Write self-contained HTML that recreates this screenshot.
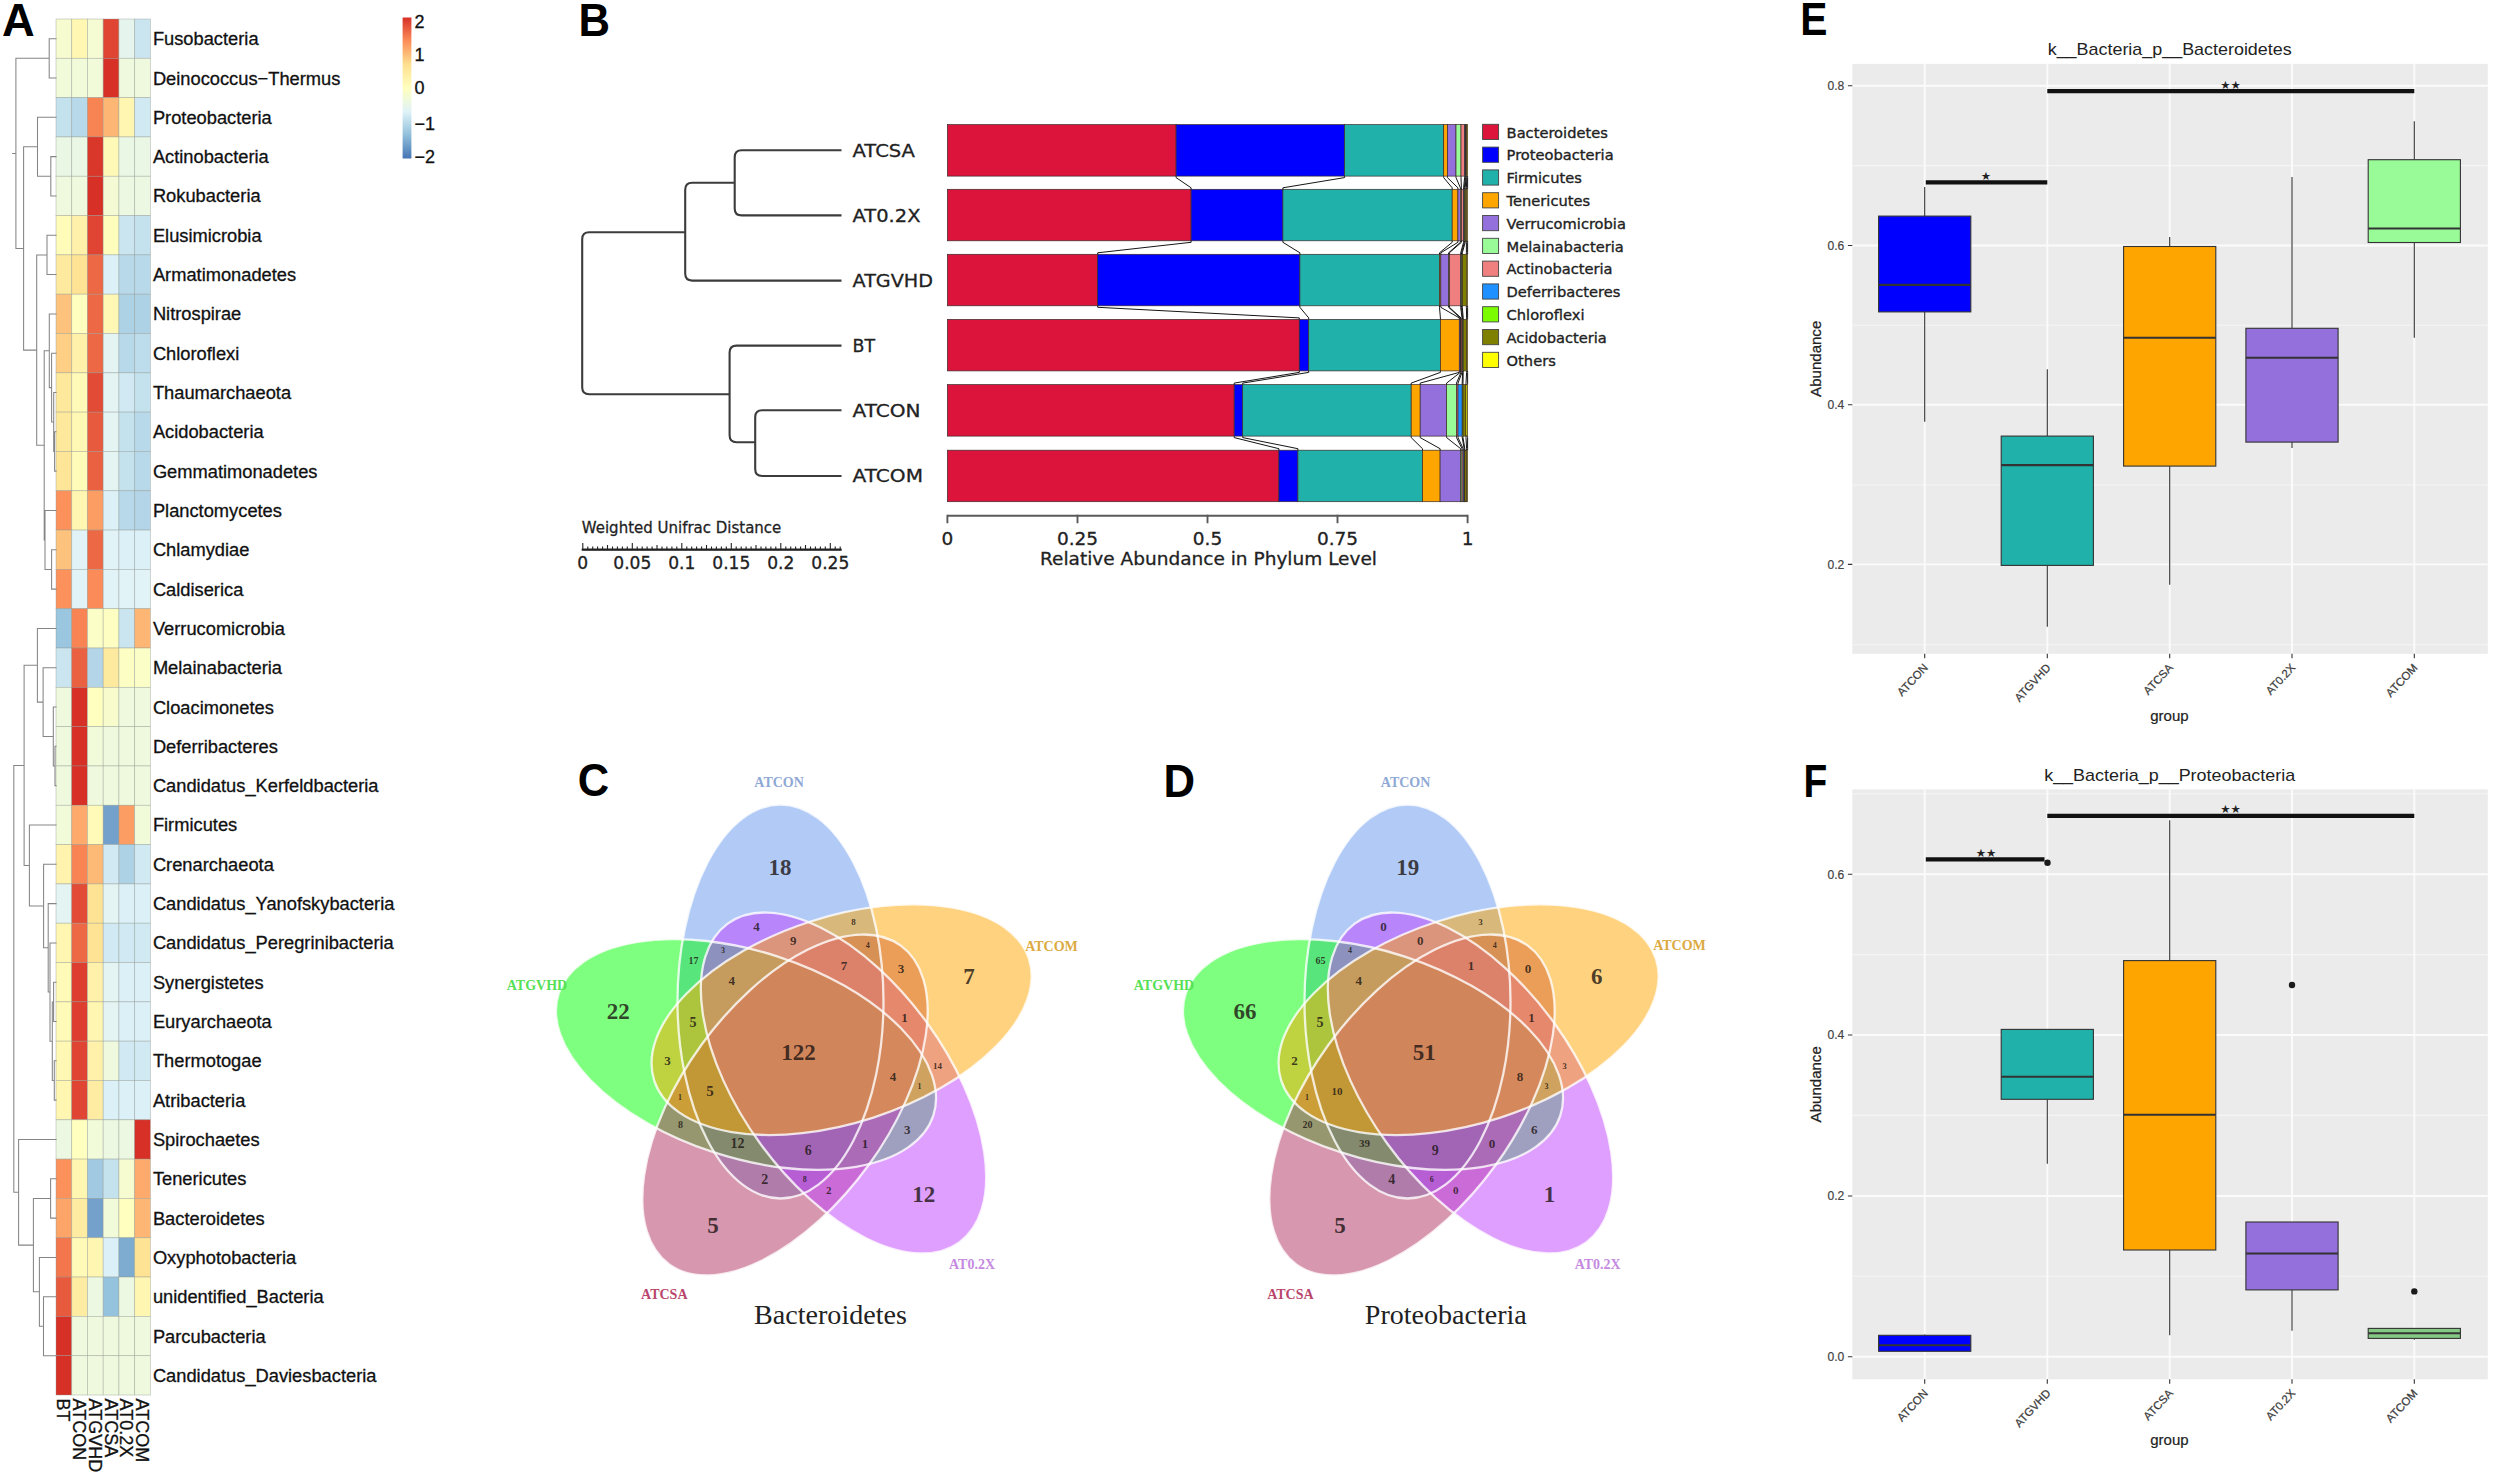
<!DOCTYPE html>
<html lang="en">
<head>
<meta charset="utf-8">
<title>Figure</title>
<style>
html,body{margin:0;padding:0;background:#fff;}
body{width:2500px;height:1483px;overflow:hidden;}
svg{display:block;}
.fs{font-family:"Liberation Sans", Arial, Helvetica, sans-serif;}
.fr{font-family:"Liberation Serif", "Times New Roman", serif;}
.fd{font-family:"DejaVu Sans", "Liberation Sans", sans-serif;}
</style>
</head>
<body>
<svg width="2500" height="1483" viewBox="0 0 2500 1483">
<rect x="0" y="0" width="2500" height="1483" fill="#ffffff"/>
<g id="panelA">
<text class="fs" font-size="46" font-weight="bold" fill="#000" transform="translate(1.91 35.60) scale(0.985 1)">A</text>
<g stroke="#8f988f" stroke-width="0.7" stroke-opacity="0.55">
<rect x="56.00" y="19.00" width="15.73" height="39.31" fill="#F6FBD0"/>
<rect x="71.73" y="19.00" width="15.73" height="39.31" fill="#FFF7B2"/>
<rect x="87.47" y="19.00" width="15.73" height="39.31" fill="#F5FBD2"/>
<rect x="103.20" y="19.00" width="15.73" height="39.31" fill="#DF4532"/>
<rect x="118.93" y="19.00" width="15.73" height="39.31" fill="#E5F5EE"/>
<rect x="134.67" y="19.00" width="15.73" height="39.31" fill="#CAE5F0"/>
<rect x="56.00" y="58.31" width="15.73" height="39.31" fill="#F1FAD9"/>
<rect x="71.73" y="58.31" width="15.73" height="39.31" fill="#F1FAD9"/>
<rect x="87.47" y="58.31" width="15.73" height="39.31" fill="#F1FAD9"/>
<rect x="103.20" y="58.31" width="15.73" height="39.31" fill="#D73027"/>
<rect x="118.93" y="58.31" width="15.73" height="39.31" fill="#EFF9DD"/>
<rect x="134.67" y="58.31" width="15.73" height="39.31" fill="#EFF9DD"/>
<rect x="56.00" y="97.63" width="15.73" height="39.31" fill="#C4E1EE"/>
<rect x="71.73" y="97.63" width="15.73" height="39.31" fill="#B8D9EA"/>
<rect x="87.47" y="97.63" width="15.73" height="39.31" fill="#F88454"/>
<rect x="103.20" y="97.63" width="15.73" height="39.31" fill="#FDB674"/>
<rect x="118.93" y="97.63" width="15.73" height="39.31" fill="#FFF6B1"/>
<rect x="134.67" y="97.63" width="15.73" height="39.31" fill="#D0E9F2"/>
<rect x="56.00" y="136.94" width="15.73" height="39.31" fill="#EAF7E5"/>
<rect x="71.73" y="136.94" width="15.73" height="39.31" fill="#EAF7E5"/>
<rect x="87.47" y="136.94" width="15.73" height="39.31" fill="#DA372B"/>
<rect x="103.20" y="136.94" width="15.73" height="39.31" fill="#FFF9B7"/>
<rect x="118.93" y="136.94" width="15.73" height="39.31" fill="#EAF7E5"/>
<rect x="134.67" y="136.94" width="15.73" height="39.31" fill="#EAF7E5"/>
<rect x="56.00" y="176.26" width="15.73" height="39.31" fill="#EFF9DD"/>
<rect x="71.73" y="176.26" width="15.73" height="39.31" fill="#EFF9DD"/>
<rect x="87.47" y="176.26" width="15.73" height="39.31" fill="#D73027"/>
<rect x="103.20" y="176.26" width="15.73" height="39.31" fill="#F3FAD4"/>
<rect x="118.93" y="176.26" width="15.73" height="39.31" fill="#ECF8E1"/>
<rect x="134.67" y="176.26" width="15.73" height="39.31" fill="#ECF8E1"/>
<rect x="56.00" y="215.57" width="15.73" height="39.31" fill="#FFFBB9"/>
<rect x="71.73" y="215.57" width="15.73" height="39.31" fill="#FFF1AA"/>
<rect x="87.47" y="215.57" width="15.73" height="39.31" fill="#DF4532"/>
<rect x="103.20" y="215.57" width="15.73" height="39.31" fill="#FFFDBB"/>
<rect x="118.93" y="215.57" width="15.73" height="39.31" fill="#CAE5F0"/>
<rect x="134.67" y="215.57" width="15.73" height="39.31" fill="#C4E1EE"/>
<rect x="56.00" y="254.89" width="15.73" height="39.31" fill="#FEEA9F"/>
<rect x="71.73" y="254.89" width="15.73" height="39.31" fill="#FEE395"/>
<rect x="87.47" y="254.89" width="15.73" height="39.31" fill="#ED6845"/>
<rect x="103.20" y="254.89" width="15.73" height="39.31" fill="#DCF0F7"/>
<rect x="118.93" y="254.89" width="15.73" height="39.31" fill="#B8D9EA"/>
<rect x="134.67" y="254.89" width="15.73" height="39.31" fill="#B8D9EA"/>
<rect x="56.00" y="294.20" width="15.73" height="39.31" fill="#FDC37D"/>
<rect x="71.73" y="294.20" width="15.73" height="39.31" fill="#FFFFBF"/>
<rect x="87.47" y="294.20" width="15.73" height="39.31" fill="#ED6845"/>
<rect x="103.20" y="294.20" width="15.73" height="39.31" fill="#FFF8B4"/>
<rect x="118.93" y="294.20" width="15.73" height="39.31" fill="#ADD1E5"/>
<rect x="134.67" y="294.20" width="15.73" height="39.31" fill="#ADD1E5"/>
<rect x="56.00" y="333.51" width="15.73" height="39.31" fill="#FECF85"/>
<rect x="71.73" y="333.51" width="15.73" height="39.31" fill="#FFF1AA"/>
<rect x="87.47" y="333.51" width="15.73" height="39.31" fill="#ED6845"/>
<rect x="103.20" y="333.51" width="15.73" height="39.31" fill="#E3F4F2"/>
<rect x="118.93" y="333.51" width="15.73" height="39.31" fill="#B8D9EA"/>
<rect x="134.67" y="333.51" width="15.73" height="39.31" fill="#BEDDEC"/>
<rect x="56.00" y="372.83" width="15.73" height="39.31" fill="#FEE89C"/>
<rect x="71.73" y="372.83" width="15.73" height="39.31" fill="#FFFAB8"/>
<rect x="87.47" y="372.83" width="15.73" height="39.31" fill="#E24C36"/>
<rect x="103.20" y="372.83" width="15.73" height="39.31" fill="#E3F4F2"/>
<rect x="118.93" y="372.83" width="15.73" height="39.31" fill="#D0E9F2"/>
<rect x="134.67" y="372.83" width="15.73" height="39.31" fill="#C4E1EE"/>
<rect x="56.00" y="412.14" width="15.73" height="39.31" fill="#FEE89C"/>
<rect x="71.73" y="412.14" width="15.73" height="39.31" fill="#FFF8B4"/>
<rect x="87.47" y="412.14" width="15.73" height="39.31" fill="#E85A3D"/>
<rect x="103.20" y="412.14" width="15.73" height="39.31" fill="#E3F4F2"/>
<rect x="118.93" y="412.14" width="15.73" height="39.31" fill="#C4E1EE"/>
<rect x="134.67" y="412.14" width="15.73" height="39.31" fill="#B8D9EA"/>
<rect x="56.00" y="451.46" width="15.73" height="39.31" fill="#FEE598"/>
<rect x="71.73" y="451.46" width="15.73" height="39.31" fill="#FFFBB9"/>
<rect x="87.47" y="451.46" width="15.73" height="39.31" fill="#EA6141"/>
<rect x="103.20" y="451.46" width="15.73" height="39.31" fill="#E3F4F2"/>
<rect x="118.93" y="451.46" width="15.73" height="39.31" fill="#C4E1EE"/>
<rect x="134.67" y="451.46" width="15.73" height="39.31" fill="#B8D9EA"/>
<rect x="56.00" y="490.77" width="15.73" height="39.31" fill="#FC915C"/>
<rect x="71.73" y="490.77" width="15.73" height="39.31" fill="#FFF6B1"/>
<rect x="87.47" y="490.77" width="15.73" height="39.31" fill="#FC9E64"/>
<rect x="103.20" y="490.77" width="15.73" height="39.31" fill="#DCF0F7"/>
<rect x="118.93" y="490.77" width="15.73" height="39.31" fill="#B8D9EA"/>
<rect x="134.67" y="490.77" width="15.73" height="39.31" fill="#B3D5E7"/>
<rect x="56.00" y="530.09" width="15.73" height="39.31" fill="#FDC37D"/>
<rect x="71.73" y="530.09" width="15.73" height="39.31" fill="#E1F3F7"/>
<rect x="87.47" y="530.09" width="15.73" height="39.31" fill="#ED6845"/>
<rect x="103.20" y="530.09" width="15.73" height="39.31" fill="#E1F3F7"/>
<rect x="118.93" y="530.09" width="15.73" height="39.31" fill="#DCF0F7"/>
<rect x="134.67" y="530.09" width="15.73" height="39.31" fill="#DCF0F7"/>
<rect x="56.00" y="569.40" width="15.73" height="39.31" fill="#FC915C"/>
<rect x="71.73" y="569.40" width="15.73" height="39.31" fill="#E1F3F7"/>
<rect x="87.47" y="569.40" width="15.73" height="39.31" fill="#FB8B58"/>
<rect x="103.20" y="569.40" width="15.73" height="39.31" fill="#E1F3F7"/>
<rect x="118.93" y="569.40" width="15.73" height="39.31" fill="#E1F3F7"/>
<rect x="134.67" y="569.40" width="15.73" height="39.31" fill="#E1F3F7"/>
<rect x="56.00" y="608.71" width="15.73" height="39.31" fill="#9BC6DF"/>
<rect x="71.73" y="608.71" width="15.73" height="39.31" fill="#F88454"/>
<rect x="87.47" y="608.71" width="15.73" height="39.31" fill="#FBFEC6"/>
<rect x="103.20" y="608.71" width="15.73" height="39.31" fill="#FEFEC2"/>
<rect x="118.93" y="608.71" width="15.73" height="39.31" fill="#CAE5F0"/>
<rect x="134.67" y="608.71" width="15.73" height="39.31" fill="#FDB674"/>
<rect x="56.00" y="648.03" width="15.73" height="39.31" fill="#CAE5F0"/>
<rect x="71.73" y="648.03" width="15.73" height="39.31" fill="#EA6141"/>
<rect x="87.47" y="648.03" width="15.73" height="39.31" fill="#B3D5E7"/>
<rect x="103.20" y="648.03" width="15.73" height="39.31" fill="#FEEA9F"/>
<rect x="118.93" y="648.03" width="15.73" height="39.31" fill="#FDFEC3"/>
<rect x="134.67" y="648.03" width="15.73" height="39.31" fill="#FBFEC6"/>
<rect x="56.00" y="687.34" width="15.73" height="39.31" fill="#EFF9DD"/>
<rect x="71.73" y="687.34" width="15.73" height="39.31" fill="#D73027"/>
<rect x="87.47" y="687.34" width="15.73" height="39.31" fill="#FFFFBF"/>
<rect x="103.20" y="687.34" width="15.73" height="39.31" fill="#F8FCCC"/>
<rect x="118.93" y="687.34" width="15.73" height="39.31" fill="#EFF9DD"/>
<rect x="134.67" y="687.34" width="15.73" height="39.31" fill="#EFF9DD"/>
<rect x="56.00" y="726.66" width="15.73" height="39.31" fill="#EFF9DD"/>
<rect x="71.73" y="726.66" width="15.73" height="39.31" fill="#D73027"/>
<rect x="87.47" y="726.66" width="15.73" height="39.31" fill="#F1FAD9"/>
<rect x="103.20" y="726.66" width="15.73" height="39.31" fill="#EFF9DD"/>
<rect x="118.93" y="726.66" width="15.73" height="39.31" fill="#EFF9DD"/>
<rect x="134.67" y="726.66" width="15.73" height="39.31" fill="#EFF9DD"/>
<rect x="56.00" y="765.97" width="15.73" height="39.31" fill="#EFF9DD"/>
<rect x="71.73" y="765.97" width="15.73" height="39.31" fill="#D73027"/>
<rect x="87.47" y="765.97" width="15.73" height="39.31" fill="#EFF9DD"/>
<rect x="103.20" y="765.97" width="15.73" height="39.31" fill="#EFF9DD"/>
<rect x="118.93" y="765.97" width="15.73" height="39.31" fill="#EFF9DD"/>
<rect x="134.67" y="765.97" width="15.73" height="39.31" fill="#EFF9DD"/>
<rect x="56.00" y="805.29" width="15.73" height="39.31" fill="#F1FAD9"/>
<rect x="71.73" y="805.29" width="15.73" height="39.31" fill="#FDAA6C"/>
<rect x="87.47" y="805.29" width="15.73" height="39.31" fill="#FFFAB8"/>
<rect x="103.20" y="805.29" width="15.73" height="39.31" fill="#73A1CB"/>
<rect x="118.93" y="805.29" width="15.73" height="39.31" fill="#FC9E64"/>
<rect x="134.67" y="805.29" width="15.73" height="39.31" fill="#F1FAD9"/>
<rect x="56.00" y="844.60" width="15.73" height="39.31" fill="#FFF3AD"/>
<rect x="71.73" y="844.60" width="15.73" height="39.31" fill="#F88454"/>
<rect x="87.47" y="844.60" width="15.73" height="39.31" fill="#FDB976"/>
<rect x="103.20" y="844.60" width="15.73" height="39.31" fill="#D0E9F2"/>
<rect x="118.93" y="844.60" width="15.73" height="39.31" fill="#ADD1E5"/>
<rect x="134.67" y="844.60" width="15.73" height="39.31" fill="#D0E9F2"/>
<rect x="56.00" y="883.91" width="15.73" height="39.31" fill="#E3F4F2"/>
<rect x="71.73" y="883.91" width="15.73" height="39.31" fill="#E24C36"/>
<rect x="87.47" y="883.91" width="15.73" height="39.31" fill="#FEE395"/>
<rect x="103.20" y="883.91" width="15.73" height="39.31" fill="#E3F4F2"/>
<rect x="118.93" y="883.91" width="15.73" height="39.31" fill="#DCF0F7"/>
<rect x="134.67" y="883.91" width="15.73" height="39.31" fill="#DCF0F7"/>
<rect x="56.00" y="923.23" width="15.73" height="39.31" fill="#FFF6B1"/>
<rect x="71.73" y="923.23" width="15.73" height="39.31" fill="#ED6845"/>
<rect x="87.47" y="923.23" width="15.73" height="39.31" fill="#FEE395"/>
<rect x="103.20" y="923.23" width="15.73" height="39.31" fill="#D0E9F2"/>
<rect x="118.93" y="923.23" width="15.73" height="39.31" fill="#D0E9F2"/>
<rect x="134.67" y="923.23" width="15.73" height="39.31" fill="#D0E9F2"/>
<rect x="56.00" y="962.54" width="15.73" height="39.31" fill="#FFFAB8"/>
<rect x="71.73" y="962.54" width="15.73" height="39.31" fill="#DD3E2F"/>
<rect x="87.47" y="962.54" width="15.73" height="39.31" fill="#FFF1AA"/>
<rect x="103.20" y="962.54" width="15.73" height="39.31" fill="#E3F4F2"/>
<rect x="118.93" y="962.54" width="15.73" height="39.31" fill="#DCF0F7"/>
<rect x="134.67" y="962.54" width="15.73" height="39.31" fill="#DCF0F7"/>
<rect x="56.00" y="1001.86" width="15.73" height="39.31" fill="#FFFAB8"/>
<rect x="71.73" y="1001.86" width="15.73" height="39.31" fill="#DD3E2F"/>
<rect x="87.47" y="1001.86" width="15.73" height="39.31" fill="#FFF6B1"/>
<rect x="103.20" y="1001.86" width="15.73" height="39.31" fill="#E3F4F2"/>
<rect x="118.93" y="1001.86" width="15.73" height="39.31" fill="#DCF0F7"/>
<rect x="134.67" y="1001.86" width="15.73" height="39.31" fill="#DCF0F7"/>
<rect x="56.00" y="1041.17" width="15.73" height="39.31" fill="#FFF8B4"/>
<rect x="71.73" y="1041.17" width="15.73" height="39.31" fill="#DF4532"/>
<rect x="87.47" y="1041.17" width="15.73" height="39.31" fill="#FFF1AA"/>
<rect x="103.20" y="1041.17" width="15.73" height="39.31" fill="#EFF9DD"/>
<rect x="118.93" y="1041.17" width="15.73" height="39.31" fill="#D0E9F2"/>
<rect x="134.67" y="1041.17" width="15.73" height="39.31" fill="#D0E9F2"/>
<rect x="56.00" y="1080.49" width="15.73" height="39.31" fill="#FFF6B1"/>
<rect x="71.73" y="1080.49" width="15.73" height="39.31" fill="#DF4532"/>
<rect x="87.47" y="1080.49" width="15.73" height="39.31" fill="#FEECA3"/>
<rect x="103.20" y="1080.49" width="15.73" height="39.31" fill="#DCF0F7"/>
<rect x="118.93" y="1080.49" width="15.73" height="39.31" fill="#DCF0F7"/>
<rect x="134.67" y="1080.49" width="15.73" height="39.31" fill="#DCF0F7"/>
<rect x="56.00" y="1119.80" width="15.73" height="39.31" fill="#ECF8E1"/>
<rect x="71.73" y="1119.80" width="15.73" height="39.31" fill="#FFFFBF"/>
<rect x="87.47" y="1119.80" width="15.73" height="39.31" fill="#F1FAD9"/>
<rect x="103.20" y="1119.80" width="15.73" height="39.31" fill="#ECF8E1"/>
<rect x="118.93" y="1119.80" width="15.73" height="39.31" fill="#ECF8E1"/>
<rect x="134.67" y="1119.80" width="15.73" height="39.31" fill="#D73027"/>
<rect x="56.00" y="1159.11" width="15.73" height="39.31" fill="#FC915C"/>
<rect x="71.73" y="1159.11" width="15.73" height="39.31" fill="#FFF6B1"/>
<rect x="87.47" y="1159.11" width="15.73" height="39.31" fill="#A1C9E1"/>
<rect x="103.20" y="1159.11" width="15.73" height="39.31" fill="#C4E1EE"/>
<rect x="118.93" y="1159.11" width="15.73" height="39.31" fill="#F6FBD0"/>
<rect x="134.67" y="1159.11" width="15.73" height="39.31" fill="#FDAA6C"/>
<rect x="56.00" y="1198.43" width="15.73" height="39.31" fill="#FDA468"/>
<rect x="71.73" y="1198.43" width="15.73" height="39.31" fill="#FEECA3"/>
<rect x="87.47" y="1198.43" width="15.73" height="39.31" fill="#73A1CB"/>
<rect x="103.20" y="1198.43" width="15.73" height="39.31" fill="#F1FAD9"/>
<rect x="118.93" y="1198.43" width="15.73" height="39.31" fill="#FFFFBF"/>
<rect x="134.67" y="1198.43" width="15.73" height="39.31" fill="#FDB674"/>
<rect x="56.00" y="1237.74" width="15.73" height="39.31" fill="#F3764C"/>
<rect x="71.73" y="1237.74" width="15.73" height="39.31" fill="#FFFAB8"/>
<rect x="87.47" y="1237.74" width="15.73" height="39.31" fill="#FFF6B1"/>
<rect x="103.20" y="1237.74" width="15.73" height="39.31" fill="#DCF0F7"/>
<rect x="118.93" y="1237.74" width="15.73" height="39.31" fill="#7EACD1"/>
<rect x="134.67" y="1237.74" width="15.73" height="39.31" fill="#FEE395"/>
<rect x="56.00" y="1277.06" width="15.73" height="39.31" fill="#E85A3D"/>
<rect x="71.73" y="1277.06" width="15.73" height="39.31" fill="#FEECA3"/>
<rect x="87.47" y="1277.06" width="15.73" height="39.31" fill="#ECF8E1"/>
<rect x="103.20" y="1277.06" width="15.73" height="39.31" fill="#95C2DC"/>
<rect x="118.93" y="1277.06" width="15.73" height="39.31" fill="#ECF8E1"/>
<rect x="134.67" y="1277.06" width="15.73" height="39.31" fill="#FFF6B1"/>
<rect x="56.00" y="1316.37" width="15.73" height="39.31" fill="#D73027"/>
<rect x="71.73" y="1316.37" width="15.73" height="39.31" fill="#EFF9DD"/>
<rect x="87.47" y="1316.37" width="15.73" height="39.31" fill="#EFF9DD"/>
<rect x="103.20" y="1316.37" width="15.73" height="39.31" fill="#EFF9DD"/>
<rect x="118.93" y="1316.37" width="15.73" height="39.31" fill="#EFF9DD"/>
<rect x="134.67" y="1316.37" width="15.73" height="39.31" fill="#EFF9DD"/>
<rect x="56.00" y="1355.69" width="15.73" height="39.31" fill="#D73027"/>
<rect x="71.73" y="1355.69" width="15.73" height="39.31" fill="#EFF9DD"/>
<rect x="87.47" y="1355.69" width="15.73" height="39.31" fill="#EFF9DD"/>
<rect x="103.20" y="1355.69" width="15.73" height="39.31" fill="#EFF9DD"/>
<rect x="118.93" y="1355.69" width="15.73" height="39.31" fill="#EFF9DD"/>
<rect x="134.67" y="1355.69" width="15.73" height="39.31" fill="#EFF9DD"/>
</g>
<text class="fs" x="152.9" y="45.2" font-size="18.3" fill="#111" stroke="#111" stroke-width="0.3">Fusobacteria</text>
<text class="fs" x="152.9" y="84.5" font-size="18.3" fill="#111" stroke="#111" stroke-width="0.3">Deinococcus−Thermus</text>
<text class="fs" x="152.9" y="123.8" font-size="18.3" fill="#111" stroke="#111" stroke-width="0.3">Proteobacteria</text>
<text class="fs" x="152.9" y="163.1" font-size="18.3" fill="#111" stroke="#111" stroke-width="0.3">Actinobacteria</text>
<text class="fs" x="152.9" y="202.4" font-size="18.3" fill="#111" stroke="#111" stroke-width="0.3">Rokubacteria</text>
<text class="fs" x="152.9" y="241.7" font-size="18.3" fill="#111" stroke="#111" stroke-width="0.3">Elusimicrobia</text>
<text class="fs" x="152.9" y="281.0" font-size="18.3" fill="#111" stroke="#111" stroke-width="0.3">Armatimonadetes</text>
<text class="fs" x="152.9" y="320.4" font-size="18.3" fill="#111" stroke="#111" stroke-width="0.3">Nitrospirae</text>
<text class="fs" x="152.9" y="359.7" font-size="18.3" fill="#111" stroke="#111" stroke-width="0.3">Chloroflexi</text>
<text class="fs" x="152.9" y="399.0" font-size="18.3" fill="#111" stroke="#111" stroke-width="0.3">Thaumarchaeota</text>
<text class="fs" x="152.9" y="438.3" font-size="18.3" fill="#111" stroke="#111" stroke-width="0.3">Acidobacteria</text>
<text class="fs" x="152.9" y="477.6" font-size="18.3" fill="#111" stroke="#111" stroke-width="0.3">Gemmatimonadetes</text>
<text class="fs" x="152.9" y="516.9" font-size="18.3" fill="#111" stroke="#111" stroke-width="0.3">Planctomycetes</text>
<text class="fs" x="152.9" y="556.2" font-size="18.3" fill="#111" stroke="#111" stroke-width="0.3">Chlamydiae</text>
<text class="fs" x="152.9" y="595.6" font-size="18.3" fill="#111" stroke="#111" stroke-width="0.3">Caldiserica</text>
<text class="fs" x="152.9" y="634.9" font-size="18.3" fill="#111" stroke="#111" stroke-width="0.3">Verrucomicrobia</text>
<text class="fs" x="152.9" y="674.2" font-size="18.3" fill="#111" stroke="#111" stroke-width="0.3">Melainabacteria</text>
<text class="fs" x="152.9" y="713.5" font-size="18.3" fill="#111" stroke="#111" stroke-width="0.3">Cloacimonetes</text>
<text class="fs" x="152.9" y="752.8" font-size="18.3" fill="#111" stroke="#111" stroke-width="0.3">Deferribacteres</text>
<text class="fs" x="152.9" y="792.1" font-size="18.3" fill="#111" stroke="#111" stroke-width="0.3">Candidatus_Kerfeldbacteria</text>
<text class="fs" x="152.9" y="831.4" font-size="18.3" fill="#111" stroke="#111" stroke-width="0.3">Firmicutes</text>
<text class="fs" x="152.9" y="870.8" font-size="18.3" fill="#111" stroke="#111" stroke-width="0.3">Crenarchaeota</text>
<text class="fs" x="152.9" y="910.1" font-size="18.3" fill="#111" stroke="#111" stroke-width="0.3">Candidatus_Yanofskybacteria</text>
<text class="fs" x="152.9" y="949.4" font-size="18.3" fill="#111" stroke="#111" stroke-width="0.3">Candidatus_Peregrinibacteria</text>
<text class="fs" x="152.9" y="988.7" font-size="18.3" fill="#111" stroke="#111" stroke-width="0.3">Synergistetes</text>
<text class="fs" x="152.9" y="1028.0" font-size="18.3" fill="#111" stroke="#111" stroke-width="0.3">Euryarchaeota</text>
<text class="fs" x="152.9" y="1067.3" font-size="18.3" fill="#111" stroke="#111" stroke-width="0.3">Thermotogae</text>
<text class="fs" x="152.9" y="1106.6" font-size="18.3" fill="#111" stroke="#111" stroke-width="0.3">Atribacteria</text>
<text class="fs" x="152.9" y="1146.0" font-size="18.3" fill="#111" stroke="#111" stroke-width="0.3">Spirochaetes</text>
<text class="fs" x="152.9" y="1185.3" font-size="18.3" fill="#111" stroke="#111" stroke-width="0.3">Tenericutes</text>
<text class="fs" x="152.9" y="1224.6" font-size="18.3" fill="#111" stroke="#111" stroke-width="0.3">Bacteroidetes</text>
<text class="fs" x="152.9" y="1263.9" font-size="18.3" fill="#111" stroke="#111" stroke-width="0.3">Oxyphotobacteria</text>
<text class="fs" x="152.9" y="1303.2" font-size="18.3" fill="#111" stroke="#111" stroke-width="0.3">unidentified_Bacteria</text>
<text class="fs" x="152.9" y="1342.5" font-size="18.3" fill="#111" stroke="#111" stroke-width="0.3">Parcubacteria</text>
<text class="fs" x="152.9" y="1381.8" font-size="18.3" fill="#111" stroke="#111" stroke-width="0.3">Candidatus_Daviesbacteria</text>
<text class="fs" x="57.3" y="1398.5" font-size="18" transform="rotate(90 57.3 1398.5)" fill="#111" stroke="#111" stroke-width="0.3">BT</text>
<text class="fs" x="73.0" y="1398.5" font-size="18" transform="rotate(90 73.0 1398.5)" fill="#111" stroke="#111" stroke-width="0.3">ATCON</text>
<text class="fs" x="88.7" y="1398.5" font-size="18" transform="rotate(90 88.7 1398.5)" fill="#111" stroke="#111" stroke-width="0.3">ATGVHD</text>
<text class="fs" x="104.5" y="1398.5" font-size="18" transform="rotate(90 104.5 1398.5)" fill="#111" stroke="#111" stroke-width="0.3">ATCSA</text>
<text class="fs" x="120.2" y="1398.5" font-size="18" transform="rotate(90 120.2 1398.5)" fill="#111" stroke="#111" stroke-width="0.3">AT0.2X</text>
<text class="fs" x="135.9" y="1398.5" font-size="18" transform="rotate(90 135.9 1398.5)" fill="#111" stroke="#111" stroke-width="0.3">ATCOM</text>
<defs><linearGradient id="hkey" x1="0" y1="0" x2="0" y2="1">
<stop offset="0.0000" stop-color="#D73027"/>
<stop offset="0.1667" stop-color="#FC8D59"/>
<stop offset="0.3333" stop-color="#FEE090"/>
<stop offset="0.5000" stop-color="#FFFFBF"/>
<stop offset="0.6667" stop-color="#E0F3F8"/>
<stop offset="0.8333" stop-color="#91BFDB"/>
<stop offset="1.0000" stop-color="#4575B4"/>
</linearGradient></defs>
<rect x="402.6" y="17.5" width="8.8" height="141" fill="url(#hkey)"/>
<text class="fs" x="414.5" y="28.0" font-size="18" fill="#111" stroke="#111" stroke-width="0.3">2</text>
<text class="fs" x="414.5" y="61.0" font-size="18" fill="#111" stroke="#111" stroke-width="0.3">1</text>
<text class="fs" x="414.5" y="94.1" font-size="18" fill="#111" stroke="#111" stroke-width="0.3">0</text>
<text class="fs" x="414.5" y="129.8" font-size="18" fill="#111" stroke="#111" stroke-width="0.3">−1</text>
<text class="fs" x="414.5" y="163.4" font-size="18" fill="#111" stroke="#111" stroke-width="0.3">−2</text>
<path d="M49.2 38.7L49.2 78.0 M49.2 38.7L56.0 38.7 M49.2 78.0L56.0 78.0 M50.8 156.6L50.8 195.9 M50.8 156.6L56.0 156.6 M50.8 195.9L56.0 195.9 M37.5 117.3L37.5 176.3 M37.5 117.3L56.0 117.3 M37.5 176.3L50.8 176.3 M47.0 235.2L47.0 274.5 M47.0 235.2L56.0 235.2 M47.0 274.5L56.0 274.5 M54.6 431.8L54.6 471.1 M54.6 431.8L56.0 431.8 M54.6 471.1L56.0 471.1 M53.7 392.5L53.7 451.5 M53.7 392.5L56.0 392.5 M53.7 451.5L54.6 451.5 M51.6 353.2L51.6 422.0 M51.6 353.2L56.0 353.2 M51.6 422.0L53.7 422.0 M49.3 313.9L49.3 387.6 M49.3 313.9L56.0 313.9 M49.3 387.6L51.6 387.6 M51.6 549.7L51.6 589.1 M51.6 549.7L56.0 549.7 M51.6 589.1L56.0 589.1 M45.0 510.4L45.0 569.4 M45.0 510.4L56.0 510.4 M45.0 569.4L51.6 569.4 M44.2 350.7L44.2 539.9 M44.2 350.7L49.3 350.7 M44.2 539.9L45.0 539.9 M36.7 254.9L36.7 445.3 M36.7 254.9L47.0 254.9 M36.7 445.3L44.2 445.3 M23.6 146.8L23.6 350.1 M23.6 146.8L37.5 146.8 M23.6 350.1L36.7 350.1 M15.9 58.3L15.9 248.4 M15.9 58.3L49.2 58.3 M15.9 248.4L23.6 248.4 M55.0 746.3L55.0 785.6 M55.0 746.3L56.0 746.3 M55.0 785.6L56.0 785.6 M53.3 707.0L53.3 766.0 M53.3 707.0L56.0 707.0 M53.3 766.0L55.0 766.0 M43.1 667.7L43.1 736.5 M43.1 667.7L56.0 667.7 M43.1 736.5L53.3 736.5 M37.4 628.4L37.4 702.1 M37.4 628.4L56.0 628.4 M37.4 702.1L43.1 702.1 M53.6 982.2L53.6 1021.5 M53.6 982.2L56.0 982.2 M53.6 1021.5L56.0 1021.5 M54.3 1060.8L54.3 1100.1 M54.3 1060.8L56.0 1060.8 M54.3 1100.1L56.0 1100.1 M52.3 1001.9L52.3 1080.5 M52.3 1001.9L53.6 1001.9 M52.3 1080.5L54.3 1080.5 M50.0 942.9L50.0 1041.2 M50.0 942.9L56.0 942.9 M50.0 1041.2L52.3 1041.2 M48.2 903.6L48.2 992.0 M48.2 903.6L56.0 903.6 M48.2 992.0L50.0 992.0 M43.6 864.3L43.6 947.8 M43.6 864.3L56.0 864.3 M43.6 947.8L48.2 947.8 M29.4 824.9L29.4 906.0 M29.4 824.9L56.0 824.9 M29.4 906.0L43.6 906.0 M24.1 665.2L24.1 865.5 M24.1 665.2L37.4 665.2 M24.1 865.5L29.4 865.5 M50.6 1178.8L50.6 1218.1 M50.6 1178.8L56.0 1178.8 M50.6 1218.1L56.0 1218.1 M43.5 1296.7L43.5 1355.7 M43.5 1296.7L56.0 1296.7 M43.5 1355.7L56.0 1355.7 M39.4 1257.4L39.4 1326.2 M39.4 1257.4L56.0 1257.4 M39.4 1326.2L43.5 1326.2 M33.4 1198.4L33.4 1291.8 M33.4 1198.4L50.6 1198.4 M33.4 1291.8L39.4 1291.8 M18.6 1139.5L18.6 1245.1 M18.6 1139.5L56.0 1139.5 M18.6 1245.1L33.4 1245.1 M13.8 765.4L13.8 1192.3 M13.8 765.4L24.1 765.4 M13.8 1192.3L18.6 1192.3 M15.9 153.4L12.6 153.4" fill="none" stroke="#858585" stroke-width="1.05" stroke-linecap="square"/>
</g>
<g id="panelB">
<text class="fs" font-size="46" font-weight="bold" fill="#000" transform="translate(578.40 35.80) scale(0.95 1)">B</text>
<path d="M1176.1 176.1L1176.1 177.6L1191.1 187.8L1191.1 189.3 M1344.6 176.1L1344.6 177.6L1282.9 187.8L1282.9 189.3 M1443.7 176.1L1443.7 177.6L1452.2 187.8L1452.2 189.3 M1447.4 176.1L1447.4 177.6L1457.9 187.8L1457.9 189.3 M1456.0 176.1L1456.0 177.6L1460.4 187.8L1460.4 189.3 M1461.0 176.1L1461.0 177.6L1461.4 187.8L1461.4 189.3 M1464.6 176.1L1464.6 177.6L1463.6 187.8L1463.6 189.3 M1465.4 176.1L1465.4 177.6L1464.4 187.8L1464.4 189.3 M1466.0 176.1L1466.0 177.6L1465.2 187.8L1465.2 189.3 M1466.8 176.1L1466.8 177.6L1466.4 187.8L1466.4 189.3 M1467.6 176.1L1467.6 177.6L1467.6 187.8L1467.6 189.3 M1191.1 240.8L1191.1 242.3L1097.7 252.8L1097.7 254.3 M1282.9 240.8L1282.9 242.3L1299.9 252.8L1299.9 254.3 M1452.2 240.8L1452.2 242.3L1439.5 252.8L1439.5 254.3 M1457.9 240.8L1457.9 242.3L1440.8 252.8L1440.8 254.3 M1460.4 240.8L1460.4 242.3L1448.6 252.8L1448.6 254.3 M1461.4 240.8L1461.4 242.3L1449.4 252.8L1449.4 254.3 M1463.6 240.8L1463.6 242.3L1460.7 252.8L1460.7 254.3 M1464.4 240.8L1464.4 242.3L1461.5 252.8L1461.5 254.3 M1465.2 240.8L1465.2 242.3L1462.3 252.8L1462.3 254.3 M1466.4 240.8L1466.4 242.3L1466.4 252.8L1466.4 254.3 M1467.6 240.8L1467.6 242.3L1467.6 252.8L1467.6 254.3 M1097.7 305.8L1097.7 307.3L1299.3 317.9L1299.3 319.4 M1299.9 305.8L1299.9 307.3L1308.7 317.9L1308.7 319.4 M1439.5 305.8L1439.5 307.3L1440.4 317.9L1440.4 319.4 M1440.8 305.8L1440.8 307.3L1459.3 317.9L1459.3 319.4 M1448.6 305.8L1448.6 307.3L1460.3 317.9L1460.3 319.4 M1449.4 305.8L1449.4 307.3L1461.0 317.9L1461.0 319.4 M1460.7 305.8L1460.7 307.3L1462.0 317.9L1462.0 319.4 M1461.5 305.8L1461.5 307.3L1462.6 317.9L1462.6 319.4 M1462.3 305.8L1462.3 307.3L1463.2 317.9L1463.2 319.4 M1466.4 305.8L1466.4 307.3L1466.6 317.9L1466.6 319.4 M1467.6 305.8L1467.6 307.3L1467.6 317.9L1467.6 319.4 M1299.3 370.9L1299.3 372.4L1234.2 383.1L1234.2 384.6 M1308.7 370.9L1308.7 372.4L1242.7 383.1L1242.7 384.6 M1440.4 370.9L1440.4 372.4L1411.2 383.1L1411.2 384.6 M1459.3 370.9L1459.3 372.4L1420.2 383.1L1420.2 384.6 M1460.3 370.9L1460.3 372.4L1446.6 383.1L1446.6 384.6 M1461.0 370.9L1461.0 372.4L1456.5 383.1L1456.5 384.6 M1462.0 370.9L1462.0 372.4L1458.0 383.1L1458.0 384.6 M1462.6 370.9L1462.6 372.4L1462.2 383.1L1462.2 384.6 M1463.2 370.9L1463.2 372.4L1463.0 383.1L1463.0 384.6 M1466.6 370.9L1466.6 372.4L1466.0 383.1L1466.0 384.6 M1467.6 370.9L1467.6 372.4L1467.6 383.1L1467.6 384.6 M1234.2 436.1L1234.2 437.6L1278.9 448.7L1278.9 450.2 M1242.7 436.1L1242.7 437.6L1297.9 448.7L1297.9 450.2 M1411.2 436.1L1411.2 437.6L1422.5 448.7L1422.5 450.2 M1420.2 436.1L1420.2 437.6L1440.1 448.7L1440.1 450.2 M1446.6 436.1L1446.6 437.6L1460.7 448.7L1460.7 450.2 M1456.5 436.1L1456.5 437.6L1462.0 448.7L1462.0 450.2 M1458.0 436.1L1458.0 437.6L1463.2 448.7L1463.2 450.2 M1462.2 436.1L1462.2 437.6L1464.2 448.7L1464.2 450.2 M1463.0 436.1L1463.0 437.6L1464.8 448.7L1464.8 450.2 M1466.0 436.1L1466.0 437.6L1466.6 448.7L1466.6 450.2 M1467.6 436.1L1467.6 437.6L1467.6 448.7L1467.6 450.2" fill="none" stroke="#151515" stroke-width="1.0"/>
<rect x="947.4" y="124.6" width="228.7" height="51.5" fill="#DC143C" stroke="#3a2a2a" stroke-width="0.7"/>
<rect x="1176.1" y="124.6" width="168.5" height="51.5" fill="#0000FF" stroke="#3a2a2a" stroke-width="0.7"/>
<rect x="1344.6" y="124.6" width="99.1" height="51.5" fill="#20B2AA" stroke="#3a2a2a" stroke-width="0.7"/>
<rect x="1443.7" y="124.6" width="3.7" height="51.5" fill="#FFA500" stroke="#3a2a2a" stroke-width="0.7"/>
<rect x="1447.4" y="124.6" width="8.6" height="51.5" fill="#9370DB" stroke="#3a2a2a" stroke-width="0.7"/>
<rect x="1456.0" y="124.6" width="5.0" height="51.5" fill="#98FB98" stroke="#3a2a2a" stroke-width="0.7"/>
<rect x="1461.0" y="124.6" width="3.6" height="51.5" fill="#F08080" stroke="#3a2a2a" stroke-width="0.7"/>
<rect x="1464.6" y="124.6" width="0.8" height="51.5" fill="#1E90FF" stroke="#3a2a2a" stroke-width="0.7"/>
<rect x="1465.4" y="124.6" width="0.6" height="51.5" fill="#7CFC00" stroke="#3a2a2a" stroke-width="0.7"/>
<rect x="1466.0" y="124.6" width="0.8" height="51.5" fill="#808000" stroke="#3a2a2a" stroke-width="0.7"/>
<rect x="1466.8" y="124.6" width="0.8" height="51.5" fill="#FFFF00" stroke="#3a2a2a" stroke-width="0.7"/>
<rect x="947.4" y="189.3" width="243.7" height="51.5" fill="#DC143C" stroke="#3a2a2a" stroke-width="0.7"/>
<rect x="1191.1" y="189.3" width="91.8" height="51.5" fill="#0000FF" stroke="#3a2a2a" stroke-width="0.7"/>
<rect x="1282.9" y="189.3" width="169.3" height="51.5" fill="#20B2AA" stroke="#3a2a2a" stroke-width="0.7"/>
<rect x="1452.2" y="189.3" width="5.7" height="51.5" fill="#FFA500" stroke="#3a2a2a" stroke-width="0.7"/>
<rect x="1457.9" y="189.3" width="2.5" height="51.5" fill="#9370DB" stroke="#3a2a2a" stroke-width="0.7"/>
<rect x="1460.4" y="189.3" width="1.0" height="51.5" fill="#98FB98" stroke="#3a2a2a" stroke-width="0.7"/>
<rect x="1461.4" y="189.3" width="2.2" height="51.5" fill="#F08080" stroke="#3a2a2a" stroke-width="0.7"/>
<rect x="1463.6" y="189.3" width="0.8" height="51.5" fill="#1E90FF" stroke="#3a2a2a" stroke-width="0.7"/>
<rect x="1464.4" y="189.3" width="0.8" height="51.5" fill="#7CFC00" stroke="#3a2a2a" stroke-width="0.7"/>
<rect x="1465.2" y="189.3" width="1.2" height="51.5" fill="#808000" stroke="#3a2a2a" stroke-width="0.7"/>
<rect x="1466.4" y="189.3" width="1.2" height="51.5" fill="#FFFF00" stroke="#3a2a2a" stroke-width="0.7"/>
<rect x="947.4" y="254.3" width="150.3" height="51.5" fill="#DC143C" stroke="#3a2a2a" stroke-width="0.7"/>
<rect x="1097.7" y="254.3" width="202.2" height="51.5" fill="#0000FF" stroke="#3a2a2a" stroke-width="0.7"/>
<rect x="1299.9" y="254.3" width="139.6" height="51.5" fill="#20B2AA" stroke="#3a2a2a" stroke-width="0.7"/>
<rect x="1439.5" y="254.3" width="1.3" height="51.5" fill="#FFA500" stroke="#3a2a2a" stroke-width="0.7"/>
<rect x="1440.8" y="254.3" width="7.8" height="51.5" fill="#9370DB" stroke="#3a2a2a" stroke-width="0.7"/>
<rect x="1448.6" y="254.3" width="0.8" height="51.5" fill="#98FB98" stroke="#3a2a2a" stroke-width="0.7"/>
<rect x="1449.4" y="254.3" width="11.3" height="51.5" fill="#F08080" stroke="#3a2a2a" stroke-width="0.7"/>
<rect x="1460.7" y="254.3" width="0.8" height="51.5" fill="#1E90FF" stroke="#3a2a2a" stroke-width="0.7"/>
<rect x="1461.5" y="254.3" width="0.8" height="51.5" fill="#7CFC00" stroke="#3a2a2a" stroke-width="0.7"/>
<rect x="1462.3" y="254.3" width="4.1" height="51.5" fill="#808000" stroke="#3a2a2a" stroke-width="0.7"/>
<rect x="1466.4" y="254.3" width="1.2" height="51.5" fill="#FFFF00" stroke="#3a2a2a" stroke-width="0.7"/>
<rect x="947.4" y="319.4" width="351.9" height="51.5" fill="#DC143C" stroke="#3a2a2a" stroke-width="0.7"/>
<rect x="1299.3" y="319.4" width="9.4" height="51.5" fill="#0000FF" stroke="#3a2a2a" stroke-width="0.7"/>
<rect x="1308.7" y="319.4" width="131.7" height="51.5" fill="#20B2AA" stroke="#3a2a2a" stroke-width="0.7"/>
<rect x="1440.4" y="319.4" width="18.9" height="51.5" fill="#FFA500" stroke="#3a2a2a" stroke-width="0.7"/>
<rect x="1459.3" y="319.4" width="1.0" height="51.5" fill="#9370DB" stroke="#3a2a2a" stroke-width="0.7"/>
<rect x="1460.3" y="319.4" width="0.7" height="51.5" fill="#98FB98" stroke="#3a2a2a" stroke-width="0.7"/>
<rect x="1461.0" y="319.4" width="1.0" height="51.5" fill="#F08080" stroke="#3a2a2a" stroke-width="0.7"/>
<rect x="1462.0" y="319.4" width="0.6" height="51.5" fill="#1E90FF" stroke="#3a2a2a" stroke-width="0.7"/>
<rect x="1462.6" y="319.4" width="0.6" height="51.5" fill="#7CFC00" stroke="#3a2a2a" stroke-width="0.7"/>
<rect x="1463.2" y="319.4" width="3.4" height="51.5" fill="#808000" stroke="#3a2a2a" stroke-width="0.7"/>
<rect x="1466.6" y="319.4" width="1.0" height="51.5" fill="#FFFF00" stroke="#3a2a2a" stroke-width="0.7"/>
<rect x="947.4" y="384.6" width="286.8" height="51.5" fill="#DC143C" stroke="#3a2a2a" stroke-width="0.7"/>
<rect x="1234.2" y="384.6" width="8.5" height="51.5" fill="#0000FF" stroke="#3a2a2a" stroke-width="0.7"/>
<rect x="1242.7" y="384.6" width="168.5" height="51.5" fill="#20B2AA" stroke="#3a2a2a" stroke-width="0.7"/>
<rect x="1411.2" y="384.6" width="9.0" height="51.5" fill="#FFA500" stroke="#3a2a2a" stroke-width="0.7"/>
<rect x="1420.2" y="384.6" width="26.4" height="51.5" fill="#9370DB" stroke="#3a2a2a" stroke-width="0.7"/>
<rect x="1446.6" y="384.6" width="9.9" height="51.5" fill="#98FB98" stroke="#3a2a2a" stroke-width="0.7"/>
<rect x="1456.5" y="384.6" width="1.5" height="51.5" fill="#F08080" stroke="#3a2a2a" stroke-width="0.7"/>
<rect x="1458.0" y="384.6" width="4.2" height="51.5" fill="#1E90FF" stroke="#3a2a2a" stroke-width="0.7"/>
<rect x="1462.2" y="384.6" width="0.8" height="51.5" fill="#7CFC00" stroke="#3a2a2a" stroke-width="0.7"/>
<rect x="1463.0" y="384.6" width="3.0" height="51.5" fill="#808000" stroke="#3a2a2a" stroke-width="0.7"/>
<rect x="1466.0" y="384.6" width="1.6" height="51.5" fill="#FFFF00" stroke="#3a2a2a" stroke-width="0.7"/>
<rect x="947.4" y="450.2" width="331.5" height="51.5" fill="#DC143C" stroke="#3a2a2a" stroke-width="0.7"/>
<rect x="1278.9" y="450.2" width="19.0" height="51.5" fill="#0000FF" stroke="#3a2a2a" stroke-width="0.7"/>
<rect x="1297.9" y="450.2" width="124.6" height="51.5" fill="#20B2AA" stroke="#3a2a2a" stroke-width="0.7"/>
<rect x="1422.5" y="450.2" width="17.6" height="51.5" fill="#FFA500" stroke="#3a2a2a" stroke-width="0.7"/>
<rect x="1440.1" y="450.2" width="20.6" height="51.5" fill="#9370DB" stroke="#3a2a2a" stroke-width="0.7"/>
<rect x="1460.7" y="450.2" width="1.3" height="51.5" fill="#98FB98" stroke="#3a2a2a" stroke-width="0.7"/>
<rect x="1462.0" y="450.2" width="1.2" height="51.5" fill="#F08080" stroke="#3a2a2a" stroke-width="0.7"/>
<rect x="1463.2" y="450.2" width="1.0" height="51.5" fill="#1E90FF" stroke="#3a2a2a" stroke-width="0.7"/>
<rect x="1464.2" y="450.2" width="0.6" height="51.5" fill="#7CFC00" stroke="#3a2a2a" stroke-width="0.7"/>
<rect x="1464.8" y="450.2" width="1.8" height="51.5" fill="#808000" stroke="#3a2a2a" stroke-width="0.7"/>
<rect x="1466.6" y="450.2" width="1.0" height="51.5" fill="#FFFF00" stroke="#3a2a2a" stroke-width="0.7"/>
<path d="M947.4 515.8H1467.6" stroke="#5a5a5a" stroke-width="2" fill="none"/>
<text class="fd" x="947.4" y="544.6" font-size="18.5" text-anchor="middle" fill="#222" stroke="#222" stroke-width="0.3">0</text>
<text class="fd" x="1077.5" y="544.6" font-size="18.5" text-anchor="middle" fill="#222" stroke="#222" stroke-width="0.3">0.25</text>
<text class="fd" x="1207.5" y="544.6" font-size="18.5" text-anchor="middle" fill="#222" stroke="#222" stroke-width="0.3">0.5</text>
<text class="fd" x="1337.5" y="544.6" font-size="18.5" text-anchor="middle" fill="#222" stroke="#222" stroke-width="0.3">0.75</text>
<text class="fd" x="1467.6" y="544.6" font-size="18.5" text-anchor="middle" fill="#222" stroke="#222" stroke-width="0.3">1</text>
<path d="M947.4 514.8V523.3 M1077.5 514.8V523.3 M1207.5 514.8V523.3 M1337.5 514.8V523.3 M1467.6 514.8V523.3" stroke="#5a5a5a" stroke-width="1.9" fill="none"/>
<text class="fd" x="1208.5" y="564.6" font-size="18.5" text-anchor="middle" textLength="337.0" lengthAdjust="spacingAndGlyphs" fill="#222" stroke="#222" stroke-width="0.3">Relative Abundance in Phylum Level</text>
<rect x="1482.6" y="124.3" width="16" height="15.2" fill="#DC143C" stroke="#444" stroke-width="0.9"/>
<text class="fd" x="1506.6" y="137.5" font-size="14.65" fill="#222" stroke="#222" stroke-width="0.35">Bacteroidetes</text>
<rect x="1482.6" y="147.1" width="16" height="15.2" fill="#0000FF" stroke="#444" stroke-width="0.9"/>
<text class="fd" x="1506.6" y="160.3" font-size="14.65" fill="#222" stroke="#222" stroke-width="0.35">Proteobacteria</text>
<rect x="1482.6" y="169.9" width="16" height="15.2" fill="#20B2AA" stroke="#444" stroke-width="0.9"/>
<text class="fd" x="1506.6" y="183.1" font-size="14.65" fill="#222" stroke="#222" stroke-width="0.35">Firmicutes</text>
<rect x="1482.6" y="192.7" width="16" height="15.2" fill="#FFA500" stroke="#444" stroke-width="0.9"/>
<text class="fd" x="1506.6" y="205.9" font-size="14.65" fill="#222" stroke="#222" stroke-width="0.35">Tenericutes</text>
<rect x="1482.6" y="215.5" width="16" height="15.2" fill="#9370DB" stroke="#444" stroke-width="0.9"/>
<text class="fd" x="1506.6" y="228.7" font-size="14.65" fill="#222" stroke="#222" stroke-width="0.35">Verrucomicrobia</text>
<rect x="1482.6" y="238.3" width="16" height="15.2" fill="#98FB98" stroke="#444" stroke-width="0.9"/>
<text class="fd" x="1506.6" y="251.5" font-size="14.65" fill="#222" stroke="#222" stroke-width="0.35">Melainabacteria</text>
<rect x="1482.6" y="261.1" width="16" height="15.2" fill="#F08080" stroke="#444" stroke-width="0.9"/>
<text class="fd" x="1506.6" y="274.3" font-size="14.65" fill="#222" stroke="#222" stroke-width="0.35">Actinobacteria</text>
<rect x="1482.6" y="283.9" width="16" height="15.2" fill="#1E90FF" stroke="#444" stroke-width="0.9"/>
<text class="fd" x="1506.6" y="297.1" font-size="14.65" fill="#222" stroke="#222" stroke-width="0.35">Deferribacteres</text>
<rect x="1482.6" y="306.7" width="16" height="15.2" fill="#7CFC00" stroke="#444" stroke-width="0.9"/>
<text class="fd" x="1506.6" y="319.9" font-size="14.65" fill="#222" stroke="#222" stroke-width="0.35">Chloroflexi</text>
<rect x="1482.6" y="329.5" width="16" height="15.2" fill="#808000" stroke="#444" stroke-width="0.9"/>
<text class="fd" x="1506.6" y="342.7" font-size="14.65" fill="#222" stroke="#222" stroke-width="0.35">Acidobacteria</text>
<rect x="1482.6" y="352.3" width="16" height="15.2" fill="#FFFF00" stroke="#444" stroke-width="0.9"/>
<text class="fd" x="1506.6" y="365.5" font-size="14.65" fill="#222" stroke="#222" stroke-width="0.35">Others</text>
<path d="M841.5 150.2H741.7Q734.7 150.2 734.7 157.2V208.4Q734.7 215.4 741.7 215.4H841.5 M734.7 182.8H692.2Q685.2 182.8 685.2 189.8V273.6Q685.2 280.6 692.2 280.6H841.5 M841.5 410.2H762.2Q755.2 410.2 755.2 417.2V469.0Q755.2 476.0 762.2 476.0H841.5 M841.5 345.6H736.6Q729.6 345.6 729.6 352.6V435.3Q729.6 442.3 736.6 442.3H755.2 M685.2 232.2H589.2Q582.2 232.2 582.2 239.2V387.2Q582.2 394.2 589.2 394.2H729.6" fill="none" stroke="#3c3c3c" stroke-width="2.1"/>
<text class="fd" x="852.5" y="156.6" font-size="17.5" textLength="62.5" lengthAdjust="spacingAndGlyphs" fill="#222" stroke="#222" stroke-width="0.3">ATCSA</text>
<text class="fd" x="852.5" y="221.8" font-size="17.5" textLength="68.0" lengthAdjust="spacingAndGlyphs" fill="#222" stroke="#222" stroke-width="0.3">AT0.2X</text>
<text class="fd" x="852.5" y="287.0" font-size="17.5" textLength="80.5" lengthAdjust="spacingAndGlyphs" fill="#222" stroke="#222" stroke-width="0.3">ATGVHD</text>
<text class="fd" x="852.5" y="352.0" font-size="17.5" textLength="22.5" lengthAdjust="spacingAndGlyphs" fill="#222" stroke="#222" stroke-width="0.3">BT</text>
<text class="fd" x="852.5" y="416.6" font-size="17.5" textLength="68.0" lengthAdjust="spacingAndGlyphs" fill="#222" stroke="#222" stroke-width="0.3">ATCON</text>
<text class="fd" x="852.5" y="482.4" font-size="17.5" textLength="70.5" lengthAdjust="spacingAndGlyphs" fill="#222" stroke="#222" stroke-width="0.3">ATCOM</text>
<text class="fd" x="581.8" y="532.6" font-size="16.5" textLength="199.5" lengthAdjust="spacingAndGlyphs" fill="#222" stroke="#222" stroke-width="0.3">Weighted Unifrac Distance</text>
<path d="M581.8 549.6H841.5 M582.8 549.6V543.1 M587.8 549.6V546.6 M592.7 549.6V546.6 M597.6 549.6V546.6 M602.6 549.6V546.6 M607.5 549.6V545.0 M612.5 549.6V546.6 M617.4 549.6V546.6 M622.4 549.6V546.6 M627.3 549.6V546.6 M632.3 549.6V543.1 M637.2 549.6V546.6 M642.2 549.6V546.6 M647.1 549.6V546.6 M652.1 549.6V546.6 M657.0 549.6V545.0 M662.0 549.6V546.6 M666.9 549.6V546.6 M671.9 549.6V546.6 M676.8 549.6V546.6 M681.8 549.6V543.1 M686.8 549.6V546.6 M691.7 549.6V546.6 M696.6 549.6V546.6 M701.6 549.6V546.6 M706.5 549.6V545.0 M711.5 549.6V546.6 M716.4 549.6V546.6 M721.4 549.6V546.6 M726.3 549.6V546.6 M731.3 549.6V543.1 M736.2 549.6V546.6 M741.2 549.6V546.6 M746.1 549.6V546.6 M751.1 549.6V546.6 M756.0 549.6V545.0 M761.0 549.6V546.6 M765.9 549.6V546.6 M770.9 549.6V546.6 M775.8 549.6V546.6 M780.8 549.6V543.1 M785.8 549.6V546.6 M790.7 549.6V546.6 M795.6 549.6V546.6 M800.6 549.6V546.6 M805.5 549.6V545.0 M810.5 549.6V546.6 M815.4 549.6V546.6 M820.4 549.6V546.6 M825.3 549.6V546.6 M830.3 549.6V543.1 M835.2 549.6V546.6 M840.2 549.6V546.6" stroke="#222" stroke-width="1.1" fill="none"/>
<path d="M581.8 549.6H841.5" stroke="#222" stroke-width="2.2" fill="none"/>
<text class="fd" x="582.8" y="568.8" font-size="17.1" text-anchor="middle" fill="#222" stroke="#222" stroke-width="0.3">0</text>
<text class="fd" x="632.3" y="568.8" font-size="17.1" text-anchor="middle" fill="#222" stroke="#222" stroke-width="0.3">0.05</text>
<text class="fd" x="681.8" y="568.8" font-size="17.1" text-anchor="middle" fill="#222" stroke="#222" stroke-width="0.3">0.1</text>
<text class="fd" x="731.3" y="568.8" font-size="17.1" text-anchor="middle" fill="#222" stroke="#222" stroke-width="0.3">0.15</text>
<text class="fd" x="780.8" y="568.8" font-size="17.1" text-anchor="middle" fill="#222" stroke="#222" stroke-width="0.3">0.2</text>
<text class="fd" x="830.3" y="568.8" font-size="17.1" text-anchor="middle" fill="#222" stroke="#222" stroke-width="0.3">0.25</text>
</g>
<g transform="translate(0.0 0)">
<ellipse cx="780.5" cy="1001.5" rx="103.0" ry="197.0" transform="rotate(0.0 780.5 1001.5)" fill="rgb(100,149,237)" fill-opacity="0.5"/>
<ellipse cx="746.0" cy="1054.5" rx="103.0" ry="197.0" transform="rotate(288.0 746.0 1054.5)" fill="rgb(0,255,0)" fill-opacity="0.5"/>
<ellipse cx="785.0" cy="1105.0" rx="103.0" ry="197.0" transform="rotate(216.0 785.0 1105.0)" fill="rgb(176,48,96)" fill-opacity="0.5"/>
<ellipse cx="843.5" cy="1083.0" rx="103.0" ry="197.0" transform="rotate(144.0 843.5 1083.0)" fill="rgb(191,64,255)" fill-opacity="0.5"/>
<ellipse cx="841.6" cy="1019.7" rx="103.0" ry="197.0" transform="rotate(72.0 841.6 1019.7)" fill="rgb(255,165,0)" fill-opacity="0.5"/>
<ellipse cx="780.5" cy="1001.5" rx="103.0" ry="197.0" transform="rotate(0.0 780.5 1001.5)" fill="none" stroke="#ffffff" stroke-opacity="0.8" stroke-width="2.3"/>
<ellipse cx="746.0" cy="1054.5" rx="103.0" ry="197.0" transform="rotate(288.0 746.0 1054.5)" fill="none" stroke="#ffffff" stroke-opacity="0.8" stroke-width="2.3"/>
<ellipse cx="785.0" cy="1105.0" rx="103.0" ry="197.0" transform="rotate(216.0 785.0 1105.0)" fill="none" stroke="#ffffff" stroke-opacity="0.8" stroke-width="2.3"/>
<ellipse cx="843.5" cy="1083.0" rx="103.0" ry="197.0" transform="rotate(144.0 843.5 1083.0)" fill="none" stroke="#ffffff" stroke-opacity="0.8" stroke-width="2.3"/>
<ellipse cx="841.6" cy="1019.7" rx="103.0" ry="197.0" transform="rotate(72.0 841.6 1019.7)" fill="none" stroke="#ffffff" stroke-opacity="0.8" stroke-width="2.3"/>
</g>
<text class="fr" x="780.0" y="875.3" font-size="23" text-anchor="middle" font-weight="bold" fill="#1c1412" fill-opacity="0.8">18</text>
<text class="fr" x="618.3" y="1018.8" font-size="23" text-anchor="middle" font-weight="bold" fill="#1c1412" fill-opacity="0.8">22</text>
<text class="fr" x="969.0" y="984.3" font-size="23" text-anchor="middle" font-weight="bold" fill="#1c1412" fill-opacity="0.8">7</text>
<text class="fr" x="923.7" y="1201.8" font-size="23" text-anchor="middle" font-weight="bold" fill="#1c1412" fill-opacity="0.8">12</text>
<text class="fr" x="713.1" y="1232.5" font-size="23" text-anchor="middle" font-weight="bold" fill="#1c1412" fill-opacity="0.8">5</text>
<text class="fr" x="798.6" y="1060.4" font-size="23" text-anchor="middle" font-weight="bold" fill="#1c1412" fill-opacity="0.8">122</text>
<text class="fr" x="756.5" y="931.4" font-size="13" text-anchor="middle" font-weight="bold" fill="#1c1412" fill-opacity="0.8">4</text>
<text class="fr" x="853.6" y="924.7" font-size="9" text-anchor="middle" font-weight="bold" fill="#1c1412" fill-opacity="0.8">8</text>
<text class="fr" x="793.2" y="945.4" font-size="13" text-anchor="middle" font-weight="bold" fill="#1c1412" fill-opacity="0.8">9</text>
<text class="fr" x="867.7" y="948.0" font-size="8" text-anchor="middle" font-weight="bold" fill="#1c1412" fill-opacity="0.8">4</text>
<text class="fr" x="843.9" y="970.2" font-size="13" text-anchor="middle" font-weight="bold" fill="#1c1412" fill-opacity="0.8">7</text>
<text class="fr" x="901.1" y="973.4" font-size="13" text-anchor="middle" font-weight="bold" fill="#1c1412" fill-opacity="0.8">3</text>
<text class="fr" x="693.5" y="964.4" font-size="10" text-anchor="middle" font-weight="bold" fill="#1c1412" fill-opacity="0.8">17</text>
<text class="fr" x="723.1" y="953.4" font-size="8" text-anchor="middle" font-weight="bold" fill="#1c1412" fill-opacity="0.8">3</text>
<text class="fr" x="731.7" y="985.4" font-size="13" text-anchor="middle" font-weight="bold" fill="#1c1412" fill-opacity="0.8">4</text>
<text class="fr" x="692.9" y="1026.7" font-size="14" text-anchor="middle" font-weight="bold" fill="#1c1412" fill-opacity="0.8">5</text>
<text class="fr" x="904.4" y="1022.0" font-size="13" text-anchor="middle" font-weight="bold" fill="#1c1412" fill-opacity="0.8">1</text>
<text class="fr" x="667.6" y="1065.2" font-size="13" text-anchor="middle" font-weight="bold" fill="#1c1412" fill-opacity="0.8">3</text>
<text class="fr" x="937.4" y="1069.3" font-size="9" text-anchor="middle" font-weight="bold" fill="#1c1412" fill-opacity="0.8">14</text>
<text class="fr" x="892.9" y="1081.4" font-size="13" text-anchor="middle" font-weight="bold" fill="#1c1412" fill-opacity="0.8">4</text>
<text class="fr" x="919.5" y="1088.7" font-size="8" text-anchor="middle" font-weight="bold" fill="#1c1412" fill-opacity="0.8">1</text>
<text class="fr" x="710.1" y="1096.1" font-size="15" text-anchor="middle" font-weight="bold" fill="#1c1412" fill-opacity="0.8">5</text>
<text class="fr" x="679.9" y="1100.2" font-size="8" text-anchor="middle" font-weight="bold" fill="#1c1412" fill-opacity="0.8">1</text>
<text class="fr" x="680.4" y="1127.8" font-size="10" text-anchor="middle" font-weight="bold" fill="#1c1412" fill-opacity="0.8">8</text>
<text class="fr" x="907.2" y="1134.2" font-size="13" text-anchor="middle" font-weight="bold" fill="#1c1412" fill-opacity="0.8">3</text>
<text class="fr" x="737.5" y="1148.2" font-size="14" text-anchor="middle" font-weight="bold" fill="#1c1412" fill-opacity="0.8">12</text>
<text class="fr" x="865.1" y="1147.8" font-size="13" text-anchor="middle" font-weight="bold" fill="#1c1412" fill-opacity="0.8">1</text>
<text class="fr" x="808.3" y="1154.7" font-size="14" text-anchor="middle" font-weight="bold" fill="#1c1412" fill-opacity="0.8">6</text>
<text class="fr" x="764.7" y="1184.3" font-size="14" text-anchor="middle" font-weight="bold" fill="#1c1412" fill-opacity="0.8">2</text>
<text class="fr" x="804.7" y="1182.2" font-size="8" text-anchor="middle" font-weight="bold" fill="#1c1412" fill-opacity="0.8">8</text>
<text class="fr" x="828.8" y="1193.9" font-size="11" text-anchor="middle" font-weight="bold" fill="#1c1412" fill-opacity="0.8">2</text>
<text class="fr" x="779.1" y="787.1" font-size="14" text-anchor="middle" font-weight="bold" fill="#8fa9d6">ATCON</text>
<text class="fr" x="1051.5" y="950.7" font-size="14" text-anchor="middle" font-weight="bold" fill="#dcaa42">ATCOM</text>
<text class="fr" x="972.0" y="1269.2" font-size="14" text-anchor="middle" font-weight="bold" fill="#c58ae0">AT0.2X</text>
<text class="fr" x="664.3" y="1298.5" font-size="14" text-anchor="middle" font-weight="bold" fill="#b9456c">ATCSA</text>
<text class="fr" x="537.0" y="989.9" font-size="14" text-anchor="middle" font-weight="bold" fill="#55e055">ATGVHD</text>
<text class="fr" x="830.5" y="1324.0" font-size="27" text-anchor="middle" textLength="153.0" lengthAdjust="spacingAndGlyphs" fill="#222">Bacteroidetes</text>
<text class="fs" font-size="46" font-weight="bold" fill="#000" transform="translate(577.71 796.40) scale(0.945 1)">C</text>
<g transform="translate(627.0 0)">
<ellipse cx="780.5" cy="1001.5" rx="103.0" ry="197.0" transform="rotate(0.0 780.5 1001.5)" fill="rgb(100,149,237)" fill-opacity="0.5"/>
<ellipse cx="746.0" cy="1054.5" rx="103.0" ry="197.0" transform="rotate(288.0 746.0 1054.5)" fill="rgb(0,255,0)" fill-opacity="0.5"/>
<ellipse cx="785.0" cy="1105.0" rx="103.0" ry="197.0" transform="rotate(216.0 785.0 1105.0)" fill="rgb(176,48,96)" fill-opacity="0.5"/>
<ellipse cx="843.5" cy="1083.0" rx="103.0" ry="197.0" transform="rotate(144.0 843.5 1083.0)" fill="rgb(191,64,255)" fill-opacity="0.5"/>
<ellipse cx="841.6" cy="1019.7" rx="103.0" ry="197.0" transform="rotate(72.0 841.6 1019.7)" fill="rgb(255,165,0)" fill-opacity="0.5"/>
<ellipse cx="780.5" cy="1001.5" rx="103.0" ry="197.0" transform="rotate(0.0 780.5 1001.5)" fill="none" stroke="#ffffff" stroke-opacity="0.8" stroke-width="2.3"/>
<ellipse cx="746.0" cy="1054.5" rx="103.0" ry="197.0" transform="rotate(288.0 746.0 1054.5)" fill="none" stroke="#ffffff" stroke-opacity="0.8" stroke-width="2.3"/>
<ellipse cx="785.0" cy="1105.0" rx="103.0" ry="197.0" transform="rotate(216.0 785.0 1105.0)" fill="none" stroke="#ffffff" stroke-opacity="0.8" stroke-width="2.3"/>
<ellipse cx="843.5" cy="1083.0" rx="103.0" ry="197.0" transform="rotate(144.0 843.5 1083.0)" fill="none" stroke="#ffffff" stroke-opacity="0.8" stroke-width="2.3"/>
<ellipse cx="841.6" cy="1019.7" rx="103.0" ry="197.0" transform="rotate(72.0 841.6 1019.7)" fill="none" stroke="#ffffff" stroke-opacity="0.8" stroke-width="2.3"/>
</g>
<text class="fr" x="1407.8" y="875.3" font-size="23" text-anchor="middle" font-weight="bold" fill="#1c1412" fill-opacity="0.8">19</text>
<text class="fr" x="1245.1" y="1018.8" font-size="23" text-anchor="middle" font-weight="bold" fill="#1c1412" fill-opacity="0.8">66</text>
<text class="fr" x="1596.8" y="984.3" font-size="23" text-anchor="middle" font-weight="bold" fill="#1c1412" fill-opacity="0.8">6</text>
<text class="fr" x="1549.4" y="1201.8" font-size="23" text-anchor="middle" font-weight="bold" fill="#1c1412" fill-opacity="0.8">1</text>
<text class="fr" x="1340.0" y="1232.5" font-size="23" text-anchor="middle" font-weight="bold" fill="#1c1412" fill-opacity="0.8">5</text>
<text class="fr" x="1424.2" y="1060.4" font-size="23" text-anchor="middle" font-weight="bold" fill="#1c1412" fill-opacity="0.8">51</text>
<text class="fr" x="1383.5" y="931.4" font-size="13" text-anchor="middle" font-weight="bold" fill="#1c1412" fill-opacity="0.8">0</text>
<text class="fr" x="1480.6" y="924.7" font-size="9" text-anchor="middle" font-weight="bold" fill="#1c1412" fill-opacity="0.8">3</text>
<text class="fr" x="1420.2" y="945.4" font-size="13" text-anchor="middle" font-weight="bold" fill="#1c1412" fill-opacity="0.8">0</text>
<text class="fr" x="1494.7" y="948.0" font-size="8" text-anchor="middle" font-weight="bold" fill="#1c1412" fill-opacity="0.8">4</text>
<text class="fr" x="1470.9" y="970.2" font-size="13" text-anchor="middle" font-weight="bold" fill="#1c1412" fill-opacity="0.8">1</text>
<text class="fr" x="1528.1" y="973.4" font-size="13" text-anchor="middle" font-weight="bold" fill="#1c1412" fill-opacity="0.8">0</text>
<text class="fr" x="1320.5" y="964.4" font-size="10" text-anchor="middle" font-weight="bold" fill="#1c1412" fill-opacity="0.8">65</text>
<text class="fr" x="1350.1" y="953.4" font-size="8" text-anchor="middle" font-weight="bold" fill="#1c1412" fill-opacity="0.8">4</text>
<text class="fr" x="1358.7" y="985.4" font-size="13" text-anchor="middle" font-weight="bold" fill="#1c1412" fill-opacity="0.8">4</text>
<text class="fr" x="1319.9" y="1026.7" font-size="14" text-anchor="middle" font-weight="bold" fill="#1c1412" fill-opacity="0.8">5</text>
<text class="fr" x="1531.4" y="1022.0" font-size="13" text-anchor="middle" font-weight="bold" fill="#1c1412" fill-opacity="0.8">1</text>
<text class="fr" x="1294.6" y="1065.2" font-size="13" text-anchor="middle" font-weight="bold" fill="#1c1412" fill-opacity="0.8">2</text>
<text class="fr" x="1564.4" y="1069.3" font-size="9" text-anchor="middle" font-weight="bold" fill="#1c1412" fill-opacity="0.8">3</text>
<text class="fr" x="1519.9" y="1081.4" font-size="13" text-anchor="middle" font-weight="bold" fill="#1c1412" fill-opacity="0.8">8</text>
<text class="fr" x="1546.5" y="1088.7" font-size="8" text-anchor="middle" font-weight="bold" fill="#1c1412" fill-opacity="0.8">3</text>
<text class="fr" x="1337.1" y="1094.7" font-size="11" text-anchor="middle" font-weight="bold" fill="#1c1412" fill-opacity="0.8">10</text>
<text class="fr" x="1306.9" y="1100.2" font-size="8" text-anchor="middle" font-weight="bold" fill="#1c1412" fill-opacity="0.8">1</text>
<text class="fr" x="1307.4" y="1127.8" font-size="10" text-anchor="middle" font-weight="bold" fill="#1c1412" fill-opacity="0.8">20</text>
<text class="fr" x="1534.2" y="1134.2" font-size="13" text-anchor="middle" font-weight="bold" fill="#1c1412" fill-opacity="0.8">6</text>
<text class="fr" x="1364.5" y="1147.1" font-size="11" text-anchor="middle" font-weight="bold" fill="#1c1412" fill-opacity="0.8">39</text>
<text class="fr" x="1492.1" y="1147.8" font-size="13" text-anchor="middle" font-weight="bold" fill="#1c1412" fill-opacity="0.8">0</text>
<text class="fr" x="1435.3" y="1154.7" font-size="14" text-anchor="middle" font-weight="bold" fill="#1c1412" fill-opacity="0.8">9</text>
<text class="fr" x="1391.7" y="1184.3" font-size="14" text-anchor="middle" font-weight="bold" fill="#1c1412" fill-opacity="0.8">4</text>
<text class="fr" x="1431.7" y="1182.2" font-size="8" text-anchor="middle" font-weight="bold" fill="#1c1412" fill-opacity="0.8">6</text>
<text class="fr" x="1455.8" y="1193.9" font-size="11" text-anchor="middle" font-weight="bold" fill="#1c1412" fill-opacity="0.8">0</text>
<text class="fr" x="1405.6" y="787.1" font-size="14" text-anchor="middle" font-weight="bold" fill="#8fa9d6">ATCON</text>
<text class="fr" x="1679.5" y="949.8" font-size="14" text-anchor="middle" font-weight="bold" fill="#dcaa42">ATCOM</text>
<text class="fr" x="1597.7" y="1269.2" font-size="14" text-anchor="middle" font-weight="bold" fill="#c58ae0">AT0.2X</text>
<text class="fr" x="1290.4" y="1298.5" font-size="14" text-anchor="middle" font-weight="bold" fill="#b9456c">ATCSA</text>
<text class="fr" x="1164.0" y="989.9" font-size="14" text-anchor="middle" font-weight="bold" fill="#55e055">ATGVHD</text>
<text class="fr" x="1445.8" y="1324.0" font-size="27" text-anchor="middle" textLength="162.0" lengthAdjust="spacingAndGlyphs" fill="#222">Proteobacteria</text>
<text class="fs" font-size="46" font-weight="bold" fill="#000" transform="translate(1163.40 797.10) scale(0.95 1)">D</text>
<g>
<text class="fs" font-size="46" font-weight="bold" fill="#000" transform="translate(1800.18 35.10) scale(0.886 1)">E</text>
<text class="fs" x="2169.7" y="55.4" font-size="16.6" text-anchor="middle" textLength="244.0" lengthAdjust="spacingAndGlyphs" fill="#222">k__Bacteria_p__Bacteroidetes</text>
<rect x="1852.3" y="63.9" width="635.5" height="589.9" fill="#EBEBEB"/>
<path d="M1852.3 165.6H2487.8 M1852.3 325.3H2487.8 M1852.3 485.0H2487.8 M1852.3 644.8H2487.8" stroke="#F5F5F5" stroke-width="1.1" fill="none"/>
<path d="M1852.3 85.8H2487.8 M1852.3 245.5H2487.8 M1852.3 404.8H2487.8 M1852.3 564.4H2487.8 M1924.7 63.9V653.8 M2047.3 63.9V653.8 M2169.7 63.9V653.8 M2292.0 63.9V653.8 M2414.3 63.9V653.8" stroke="#FBFBFB" stroke-width="1.9" fill="none"/>
<path d="M1847.9 85.8H1852.3 M1847.9 245.5H1852.3 M1847.9 404.8H1852.3 M1847.9 564.4H1852.3 M1924.7 653.8V658.2 M2047.3 653.8V658.2 M2169.7 653.8V658.2 M2292.0 653.8V658.2 M2414.3 653.8V658.2" stroke="#333" stroke-width="1.1" fill="none"/>
<text class="fs" x="1844.3" y="90.2" font-size="12.1" text-anchor="end" fill="#444" stroke="#444" stroke-width="0.2">0.8</text>
<text class="fs" x="1844.3" y="249.9" font-size="12.1" text-anchor="end" fill="#444" stroke="#444" stroke-width="0.2">0.6</text>
<text class="fs" x="1844.3" y="409.2" font-size="12.1" text-anchor="end" fill="#444" stroke="#444" stroke-width="0.2">0.4</text>
<text class="fs" x="1844.3" y="568.8" font-size="12.1" text-anchor="end" fill="#444" stroke="#444" stroke-width="0.2">0.2</text>
<text class="fs" x="1928.7" y="668.3" font-size="11.4" text-anchor="end" transform="rotate(-47 1928.7 668.3)" fill="#3a3a3a" stroke="#3a3a3a" stroke-width="0.25">ATCON</text>
<text class="fs" x="2051.3" y="668.3" font-size="11.4" text-anchor="end" transform="rotate(-47 2051.3 668.3)" fill="#3a3a3a" stroke="#3a3a3a" stroke-width="0.25">ATGVHD</text>
<text class="fs" x="2173.7" y="668.3" font-size="11.4" text-anchor="end" transform="rotate(-47 2173.7 668.3)" fill="#3a3a3a" stroke="#3a3a3a" stroke-width="0.25">ATCSA</text>
<text class="fs" x="2296.0" y="668.3" font-size="11.4" text-anchor="end" transform="rotate(-47 2296.0 668.3)" fill="#3a3a3a" stroke="#3a3a3a" stroke-width="0.25">AT0.2X</text>
<text class="fs" x="2418.3" y="668.3" font-size="11.4" text-anchor="end" transform="rotate(-47 2418.3 668.3)" fill="#3a3a3a" stroke="#3a3a3a" stroke-width="0.25">ATCOM</text>
<text class="fs" x="2169.4" y="720.8" font-size="14.8" text-anchor="middle" textLength="38.4" lengthAdjust="spacingAndGlyphs" fill="#222" stroke="#222" stroke-width="0.2">group</text>
<text class="fs" x="1821.0" y="358.8" font-size="14.6" text-anchor="middle" transform="rotate(-90 1821.0 358.8)" textLength="76.2" lengthAdjust="spacingAndGlyphs" fill="#222" stroke="#222" stroke-width="0.25">Abundance</text>
<path d="M1924.7 187.1V216.1 M1924.7 311.9V421.7" stroke="#333" stroke-width="1.1" fill="none"/>
<rect x="1878.6" y="216.1" width="92.2" height="95.8" fill="#0000FF" stroke="#333" stroke-width="1.1"/>
<path d="M1878.6 284.9H1970.8" stroke="#333" stroke-width="2.1" fill="none"/>
<path d="M2047.3 369.3V436.1 M2047.3 565.4V626.7" stroke="#333" stroke-width="1.1" fill="none"/>
<rect x="2001.2" y="436.1" width="92.2" height="129.3" fill="#20B2AA" stroke="#333" stroke-width="1.1"/>
<path d="M2001.2 465.1H2093.4" stroke="#333" stroke-width="2.1" fill="none"/>
<path d="M2169.7 237.0V246.5 M2169.7 466.1V584.8" stroke="#333" stroke-width="1.1" fill="none"/>
<rect x="2123.6" y="246.5" width="92.2" height="219.6" fill="#FFA500" stroke="#333" stroke-width="1.1"/>
<path d="M2123.6 337.8H2215.8" stroke="#333" stroke-width="2.1" fill="none"/>
<path d="M2292.0 177.1V328.3 M2292.0 442.1V448.1" stroke="#333" stroke-width="1.1" fill="none"/>
<rect x="2245.9" y="328.3" width="92.2" height="113.8" fill="#9370DB" stroke="#333" stroke-width="1.1"/>
<path d="M2245.9 357.8H2338.1" stroke="#333" stroke-width="2.1" fill="none"/>
<path d="M2414.3 121.3V159.7 M2414.3 242.5V337.8" stroke="#333" stroke-width="1.1" fill="none"/>
<rect x="2368.2" y="159.7" width="92.2" height="82.8" fill="#98FB98" stroke="#333" stroke-width="1.1"/>
<path d="M2368.2 228.5H2460.4" stroke="#333" stroke-width="2.1" fill="none"/>
<path d="M1925.8 182.4H2047.3" stroke="#111" stroke-width="4.2" fill="none"/>
<text class="fd" x="1986.0" y="179.8" font-size="11.5" text-anchor="middle" fill="#222">★</text>
<path d="M2047.3 91.2H2414.3" stroke="#111" stroke-width="4.2" fill="none"/>
<text class="fd" x="2230.6" y="88.6" font-size="11.5" text-anchor="middle" fill="#222">★★</text>
</g>
<g>
<text class="fs" font-size="46" font-weight="bold" fill="#000" transform="translate(1803.48 796.80) scale(0.846 1)">F</text>
<text class="fs" x="2169.7" y="780.8" font-size="16.6" text-anchor="middle" textLength="251.0" lengthAdjust="spacingAndGlyphs" fill="#222">k__Bacteria_p__Proteobacteria</text>
<rect x="1852.3" y="789.4" width="635.5" height="589.9" fill="#EBEBEB"/>
<path d="M1852.3 793.8H2487.8 M1852.3 954.6H2487.8 M1852.3 1115.4H2487.8 M1852.3 1276.2H2487.8" stroke="#F5F5F5" stroke-width="1.1" fill="none"/>
<path d="M1852.3 874.2H2487.8 M1852.3 1035.0H2487.8 M1852.3 1196.0H2487.8 M1852.3 1356.8H2487.8 M1924.7 789.4V1379.3 M2047.3 789.4V1379.3 M2169.7 789.4V1379.3 M2292.0 789.4V1379.3 M2414.3 789.4V1379.3" stroke="#FBFBFB" stroke-width="1.9" fill="none"/>
<path d="M1847.9 874.2H1852.3 M1847.9 1035.0H1852.3 M1847.9 1196.0H1852.3 M1847.9 1356.8H1852.3 M1924.7 1379.3V1383.7 M2047.3 1379.3V1383.7 M2169.7 1379.3V1383.7 M2292.0 1379.3V1383.7 M2414.3 1379.3V1383.7" stroke="#333" stroke-width="1.1" fill="none"/>
<text class="fs" x="1844.3" y="878.6" font-size="12.1" text-anchor="end" fill="#444" stroke="#444" stroke-width="0.2">0.6</text>
<text class="fs" x="1844.3" y="1039.4" font-size="12.1" text-anchor="end" fill="#444" stroke="#444" stroke-width="0.2">0.4</text>
<text class="fs" x="1844.3" y="1200.4" font-size="12.1" text-anchor="end" fill="#444" stroke="#444" stroke-width="0.2">0.2</text>
<text class="fs" x="1844.3" y="1361.2" font-size="12.1" text-anchor="end" fill="#444" stroke="#444" stroke-width="0.2">0.0</text>
<text class="fs" x="1928.7" y="1393.8" font-size="11.4" text-anchor="end" transform="rotate(-47 1928.7 1393.8)" fill="#3a3a3a" stroke="#3a3a3a" stroke-width="0.25">ATCON</text>
<text class="fs" x="2051.3" y="1393.8" font-size="11.4" text-anchor="end" transform="rotate(-47 2051.3 1393.8)" fill="#3a3a3a" stroke="#3a3a3a" stroke-width="0.25">ATGVHD</text>
<text class="fs" x="2173.7" y="1393.8" font-size="11.4" text-anchor="end" transform="rotate(-47 2173.7 1393.8)" fill="#3a3a3a" stroke="#3a3a3a" stroke-width="0.25">ATCSA</text>
<text class="fs" x="2296.0" y="1393.8" font-size="11.4" text-anchor="end" transform="rotate(-47 2296.0 1393.8)" fill="#3a3a3a" stroke="#3a3a3a" stroke-width="0.25">AT0.2X</text>
<text class="fs" x="2418.3" y="1393.8" font-size="11.4" text-anchor="end" transform="rotate(-47 2418.3 1393.8)" fill="#3a3a3a" stroke="#3a3a3a" stroke-width="0.25">ATCOM</text>
<text class="fs" x="2169.4" y="1445.2" font-size="14.8" text-anchor="middle" textLength="38.4" lengthAdjust="spacingAndGlyphs" fill="#222" stroke="#222" stroke-width="0.2">group</text>
<text class="fs" x="1821.0" y="1084.3" font-size="14.6" text-anchor="middle" transform="rotate(-90 1821.0 1084.3)" textLength="76.2" lengthAdjust="spacingAndGlyphs" fill="#222" stroke="#222" stroke-width="0.25">Abundance</text>
<path d="M1924.7 1334.5V1335.3" stroke="#333" stroke-width="1.1" fill="none"/>
<rect x="1878.6" y="1335.3" width="92.2" height="16.0" fill="#0000FF" stroke="#333" stroke-width="1.1"/>
<path d="M1878.6 1345.3H1970.8" stroke="#333" stroke-width="2.1" fill="none"/>
<path d="M2047.3 1099.3V1163.7" stroke="#333" stroke-width="1.1" fill="none"/>
<rect x="2001.2" y="1029.4" width="92.2" height="69.9" fill="#20B2AA" stroke="#333" stroke-width="1.1"/>
<path d="M2001.2 1076.8H2093.4" stroke="#333" stroke-width="2.1" fill="none"/>
<path d="M2169.7 820.3V960.6 M2169.7 1250.0V1335.3" stroke="#333" stroke-width="1.1" fill="none"/>
<rect x="2123.6" y="960.6" width="92.2" height="289.4" fill="#FFA500" stroke="#333" stroke-width="1.1"/>
<path d="M2123.6 1114.8H2215.8" stroke="#333" stroke-width="2.1" fill="none"/>
<path d="M2292.0 1289.9V1330.8" stroke="#333" stroke-width="1.1" fill="none"/>
<rect x="2245.9" y="1222.0" width="92.2" height="67.9" fill="#9370DB" stroke="#333" stroke-width="1.1"/>
<path d="M2245.9 1253.5H2338.1" stroke="#333" stroke-width="2.1" fill="none"/>
<path d="M2414.3 1338.4V1339.8" stroke="#333" stroke-width="1.1" fill="none"/>
<rect x="2368.2" y="1328.4" width="92.2" height="10.0" fill="#84C984" stroke="#333" stroke-width="1.1"/>
<path d="M2368.2 1333.3H2460.4" stroke="#333" stroke-width="2.1" fill="none"/>
<circle cx="2047.5" cy="862.8" r="3.2" fill="#1a1a1a"/>
<circle cx="2292.0" cy="985.0" r="3.2" fill="#1a1a1a"/>
<circle cx="2414.3" cy="1291.4" r="3.2" fill="#1a1a1a"/>
<path d="M1925.8 859.4H2044.5" stroke="#111" stroke-width="4.2" fill="none"/>
<text class="fd" x="1986.0" y="856.8" font-size="11.5" text-anchor="middle" fill="#222">★★</text>
<path d="M2047.3 815.9H2414.3" stroke="#111" stroke-width="4.2" fill="none"/>
<text class="fd" x="2230.6" y="813.3" font-size="11.5" text-anchor="middle" fill="#222">★★</text>
</g>
</svg>
</body>
</html>
